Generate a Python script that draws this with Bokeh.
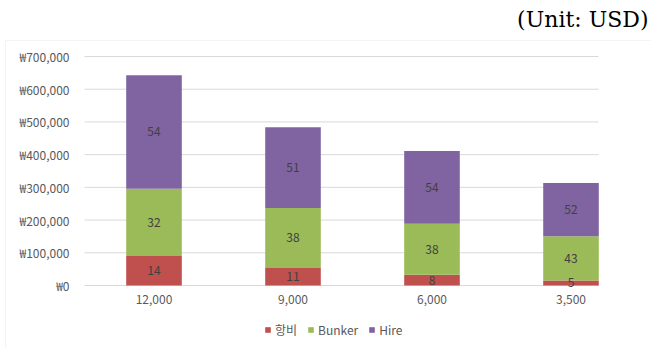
from bokeh.plotting import figure
from bokeh.models import (ColumnDataSource, FixedTicker, Legend, LegendItem,
                          Range1d, Label, BoxAnnotation)
from bokeh.core.properties import value
from bokeh.embed import file_html
from bokeh.resources import INLINE

# Categories (speed) and totals per category, plus each component's share (%)
speeds = ["12,000", "9,000", "6,000", "3,500"]
totals = [643000, 484000, 411000, 313000]
port_pct = [14, 11, 8, 5]
bunker_pct = [32, 38, 38, 43]
hire_pct = [54, 51, 54, 52]

series = ["항비", "Bunker", "Hire"]
colors = ["#C0504D", "#9BBB59", "#8064A2"]

y_ticks = [0, 100000, 200000, 300000, 400000, 500000, 600000, 700000]
y_tick_labels = ["₩0", "₩100,000", "₩200,000", "₩300,000",
                 "₩400,000", "₩500,000", "₩600,000", "₩700,000"]

FONT = "Noto Sans CJK KR"
GRAY = "#595959"

# page geometry (pixels): canvas and the plot area inside it
W, H = 651, 348
PA_LEFT, PA_RIGHT, PA_TOP, PA_BOTTOM = 84, 598, 56, 285
CAT_PX = 139                      # width of one category slot
Y_MAX = y_ticks[-1]

px_per_y = (PA_BOTTOM - PA_TOP) / Y_MAX
x_lo = -0.5 - PA_LEFT / CAT_PX
x_hi = -0.5 + (W - PA_LEFT) / CAT_PX
y_lo = -(H - PA_BOTTOM) / px_per_y
y_hi = PA_BOTTOM / px_per_y
x_area_end = -0.5 + (PA_RIGHT - PA_LEFT) / CAT_PX

xs = list(range(len(speeds)))
shares = [port_pct, bunker_pct, hire_pct]
parts = [[t * p / 100 for t, p in zip(totals, pct)] for pct in shares]

data = {"x": xs}
for name, vals in zip(series, parts):
    data[name] = vals
src = ColumnDataSource(data)

p = figure(width=W, height=H, output_backend="svg", toolbar_location=None,
           x_range=Range1d(x_lo, x_hi), y_range=Range1d(y_lo, y_hi),
           min_border=0, background_fill_color="white",
           border_fill_color="white", outline_line_color=None)

# horizontal gridlines across the plot area
p.segment(x0=-0.5, x1=x_area_end, y0=y_ticks, y1=y_ticks,
          line_color="#D9D9D9", line_width=1)

bars = p.vbar_stack(series, x="x", width=0.4, source=src, color=colors,
                    line_color=None)

# segment labels showing each component's share
lx, ly, lt = [], [], []
for i in xs:
    base = 0.0
    for k in range(len(series)):
        seg = parts[k][i]
        lx.append(i)
        ly.append(base + seg / 2)
        lt.append(str(shares[k][i]))
        base += seg
p.text(x=lx, y=ly, text=lt, text_align="center", text_baseline="middle",
       text_font=value(FONT), text_font_size="12px", text_color="#404040")

# axes pinned to the plot area's edges
p.yaxis.fixed_location = -0.5
p.xaxis.fixed_location = 0
p.yaxis.ticker = FixedTicker(ticks=y_ticks)
p.yaxis.major_label_overrides = {t: l for t, l in zip(y_ticks, y_tick_labels)}
p.xaxis.ticker = FixedTicker(ticks=xs)
p.xaxis.major_label_overrides = {i: s for i, s in zip(xs, speeds)}
for ax in (p.xaxis[0], p.yaxis[0]):
    ax.axis_line_color = None
    ax.major_tick_line_color = None
    ax.minor_tick_line_color = None
    ax.major_tick_out = 0
    ax.major_tick_in = 0
    ax.major_label_text_font = FONT
    ax.major_label_text_font_size = "12px"
    ax.major_label_text_color = GRAY
p.yaxis.major_label_standoff = 15
p.xaxis.major_label_standoff = 9

p.xgrid.grid_line_color = None
p.ygrid.grid_line_color = None

# legend under the plot area
items = [LegendItem(label=n, renderers=[r]) for n, r in zip(series, bars)]
legend = Legend(items=items, orientation="horizontal", location=(264, 10),
                glyph_width=7, glyph_height=7, label_height=14,
                label_standoff=4, spacing=10, padding=0, margin=0,
                border_line_color=None, background_fill_alpha=0,
                label_text_font=FONT, label_text_font_size="12px",
                label_text_color=GRAY)
p.add_layout(legend, "center")

# chart border
p.add_layout(BoxAnnotation(left=5, right=W + 20, bottom=-20, top=H - 40,
                           left_units="screen", right_units="screen",
                           bottom_units="screen", top_units="screen",
                           fill_alpha=0, line_color="#D9D9D9", line_width=1))

p.add_layout(Label(x=W - 3, y=H - 19, x_units="screen", y_units="screen",
                   text="(Unit: USD)", text_align="right",
                   text_baseline="alphabetic", text_font="DejaVu Serif",
                   text_font_size="22px", text_color="#000000"))

open("out.html", "w").write(file_html(p, INLINE))
